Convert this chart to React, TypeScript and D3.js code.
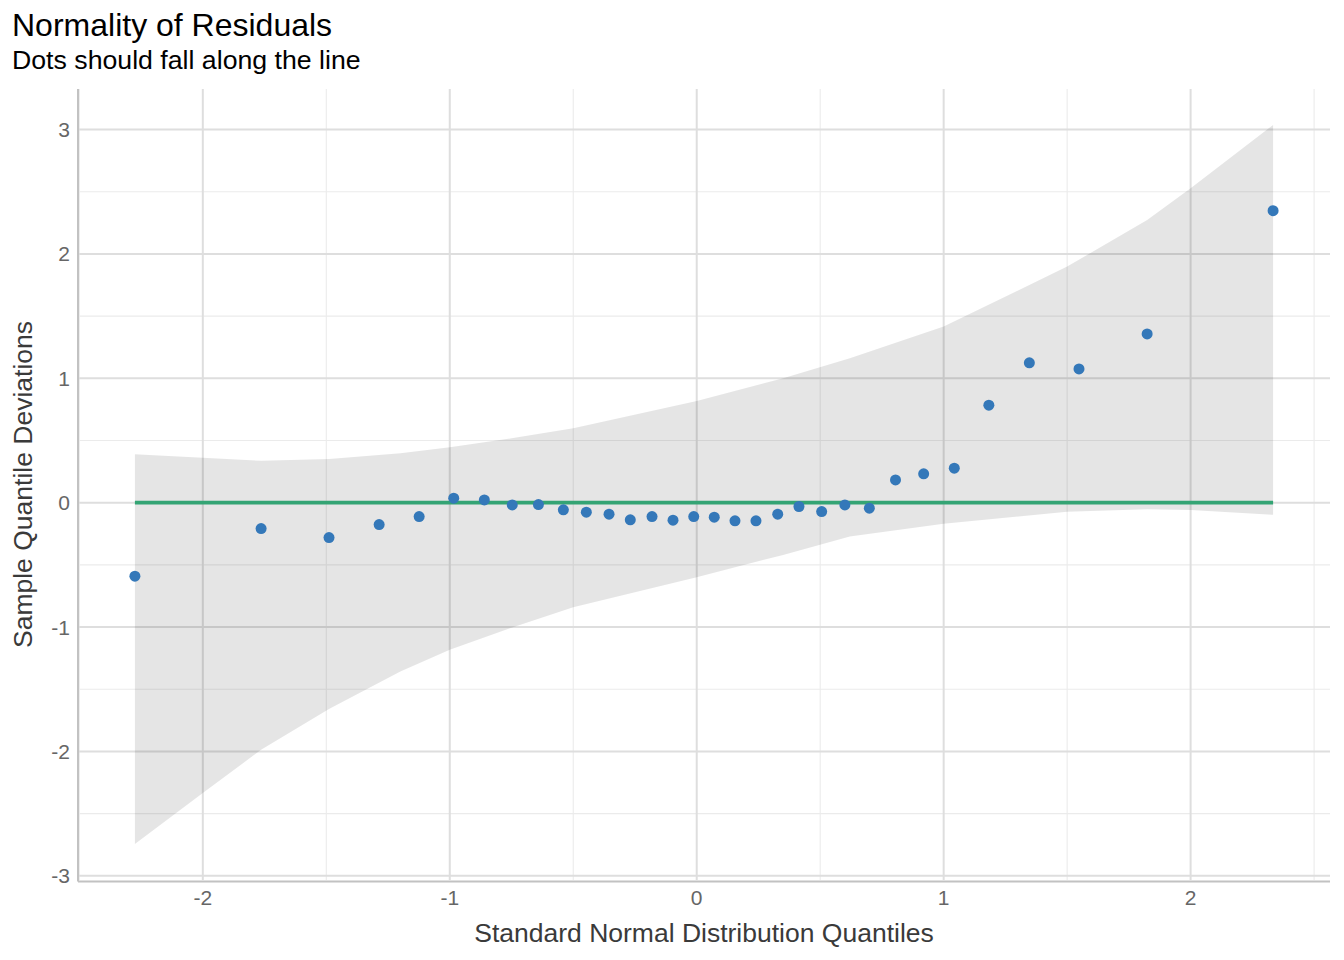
import React from "react";
import * as d3 from "d3";

// Detrended QQ points
const qx = [-2.275, -1.764, -1.489, -1.286, -1.124, -0.984, -0.86, -0.747, -0.641, -0.54, -0.447, -0.355, -0.269, -0.181, -0.096, -0.012, 0.071, 0.155, 0.24, 0.328, 0.414, 0.506, 0.6, 0.699, 0.805, 0.919, 1.043, 1.183, 1.347, 1.548, 1.824, 2.334];
const qy = [-0.591, -0.208, -0.281, -0.176, -0.112, 0.036, 0.022, -0.018, -0.015, -0.058, -0.077, -0.093, -0.138, -0.112, -0.141, -0.112, -0.117, -0.146, -0.146, -0.093, -0.031, -0.072, -0.018, -0.044, 0.183, 0.232, 0.277, 0.784, 1.124, 1.075, 1.357, 2.348];

// Confidence band
const bandX = [-2.275, -2.0, -1.764, -1.489, -1.2, -1.0, -0.756, -0.5, 0, 0.35, 0.62, 1.0, 1.5, 1.824, 2.0, 2.334];
const bandUpper = [0.39, 0.362, 0.336, 0.352, 0.398, 0.446, 0.515, 0.599, 0.818, 1.0, 1.161, 1.416, 1.898, 2.273, 2.528, 3.037];
const bandLower = [-2.745, -2.335, -1.987, -1.66, -1.358, -1.183, -1.009, -0.841, -0.6, -0.42, -0.272, -0.17, -0.074, -0.052, -0.06, -0.098];

const xMajor = [-2, -1, 0, 1, 2];
const xMinor = [-2.5, -1.5, -0.5, 0.5, 1.5, 2.5];
const yMajor = [-3, -2, -1, 0, 1, 2, 3];
const yMinor = [-2.5, -1.5, -0.5, 0.5, 1.5, 2.5];

const title = "Normality of Residuals";
const subtitle = "Dots should fall along the line";
const xTitle = "Standard Normal Distribution Quantiles";
const yTitle = "Sample Quantile Deviations";

const W = 1344;
const H = 960;
const P = { left: 78, right: 1330, top: 89, bottom: 880 };
const FONT = "'Liberation Sans', Arial, Helvetica, sans-serif";

function expand(lo: number, hi: number, f = 0.05): [number, number] {
  const r = hi - lo;
  return [lo - r * f, hi + r * f];
}

export default function App() {
  const xExt = d3.extent(qx) as [number, number];
  const yLo = Math.min(d3.min(bandLower)!, d3.min(qy)!);
  const yHi = Math.max(d3.max(bandUpper)!, d3.max(qy)!);
  const x = d3.scaleLinear().domain(expand(xExt[0], xExt[1])).range([P.left, P.right]);
  const y = d3.scaleLinear().domain(expand(yLo, yHi)).range([P.bottom, P.top]);

  const bandData = bandX.map((v, i) => ({ x: v, lo: bandLower[i], hi: bandUpper[i] }));
  const area = d3
    .area<{ x: number; lo: number; hi: number }>()
    .x((d) => x(d.x))
    .y0((d) => y(d.lo))
    .y1((d) => y(d.hi));

  const [xd0, xd1] = x.domain();
  const [yd0, yd1] = y.domain();

  return (
    <svg width={W} height={H} style={{ position: "absolute", left: 0, top: 0, background: "#fff" }} fontFamily={FONT}>
      <rect x={0} y={0} width={W} height={H} fill="#fff" />
      {/* minor grid */}
      {xMinor.filter((v) => v >= xd0 && v <= xd1).map((v) => (
        <line key={"xm" + v} x1={x(v)} x2={x(v)} y1={P.top} y2={P.bottom} stroke="#ebebeb" strokeWidth={1.1} />
      ))}
      {yMinor.filter((v) => v >= yd0 && v <= yd1).map((v) => (
        <line key={"ym" + v} x1={P.left} x2={P.right} y1={y(v)} y2={y(v)} stroke="#ebebeb" strokeWidth={1.1} />
      ))}
      {/* major grid */}
      {xMajor.map((v) => (
        <line key={"xM" + v} x1={x(v)} x2={x(v)} y1={P.top} y2={P.bottom} stroke="#dedede" strokeWidth={2} />
      ))}
      {yMajor.map((v) => (
        <line key={"yM" + v} x1={P.left} x2={P.right} y1={y(v)} y2={y(v)} stroke="#dedede" strokeWidth={2} />
      ))}

      {/* band */}
      <path d={area(bandData) || ""} fill="#000" fillOpacity={0.1} />

      {/* reference line */}
      <line x1={x(xExt[0])} x2={x(xExt[1])} y1={y(0)} y2={y(0)} stroke="#34a474" strokeWidth={3.8} />

      {/* points */}
      {qx.map((v, i) => (
        <circle key={"p" + i} cx={x(v)} cy={y(qy[i])} r={5.5} fill="#3478b9" />
      ))}

      {/* axes lines */}
      <line x1={P.left} x2={P.left} y1={P.top} y2={P.bottom + 1.5} stroke="#c2c2c2" strokeWidth={2} />
      <line x1={P.left} x2={P.right} y1={P.bottom + 1.5} y2={P.bottom + 1.5} stroke="#c2c2c2" strokeWidth={2} />

      {/* tick labels */}
      {yMajor.map((v) => (
        <text key={"yl" + v} x={P.left - 8} y={y(v)} dy="0.36em" textAnchor="end" fontSize={21} fill="#666">
          {v}
        </text>
      ))}
      {xMajor.map((v) => (
        <text key={"xl" + v} x={x(v)} y={P.bottom + 25} textAnchor="middle" fontSize={21} fill="#666">
          {v}
        </text>
      ))}

      {/* axis titles */}
      <text x={(P.left + P.right) / 2} y={942} textAnchor="middle" fontSize={26.5} fill="#3a3a3a">
        {xTitle}
      </text>
      <text transform={`translate(32,${(P.top + P.bottom) / 2}) rotate(-90)`} textAnchor="middle" fontSize={26.5} fill="#3a3a3a">
        {yTitle}
      </text>

      {/* titles */}
      <text x={12} y={36} fontSize={32} fill="#000">
        {title}
      </text>
      <text x={12} y={69} fontSize={26.7} fill="#000">
        {subtitle}
      </text>
    </svg>
  );
}
